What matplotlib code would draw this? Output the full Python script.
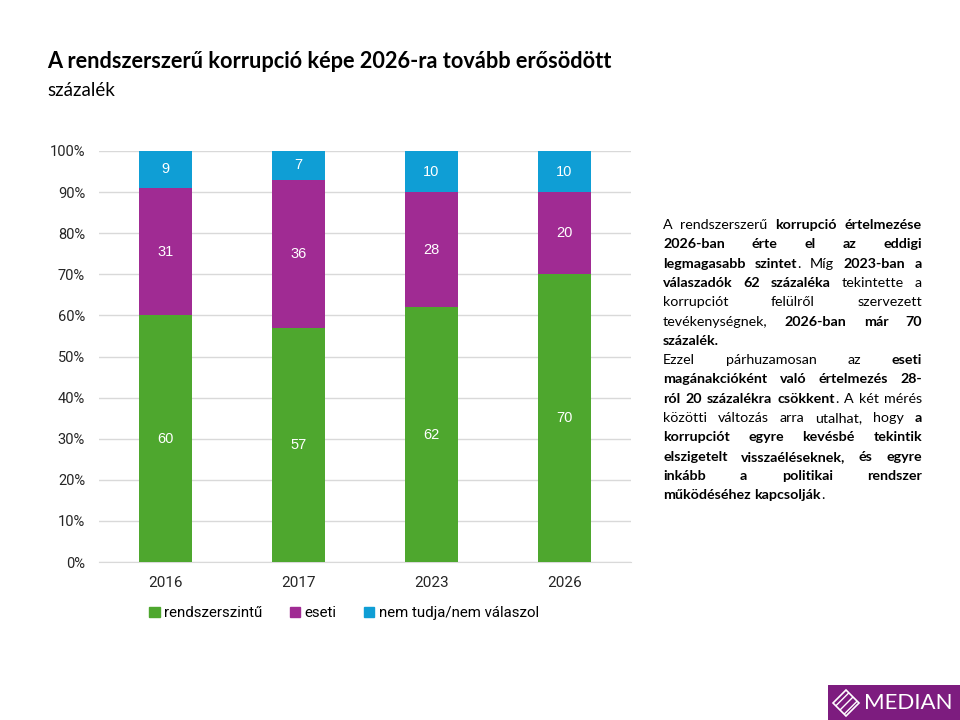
import matplotlib
matplotlib.use('Agg')
import matplotlib.pyplot as plt
from matplotlib.patches import Rectangle, Polygon
import numpy as np

# Adatok
years = ['2016', '2017', '2023', '2026']
rendszerszintu = [60, 57, 62, 70]
eseti = [31, 36, 28, 20]
nem_tudja = [9, 7, 10, 10]
series_names = ['rendszerszintű', 'eseti', 'nem tudja/nem válaszol']
y_ticks = [0, 10, 20, 30, 40, 50, 60, 70, 80, 90, 100]

title = 'A rendszerszerű korrupció képe 2026-ra tovább erősödött'
subtitle = 'százalék'

# Jobb oldali szöveg, soronként (** = félkövér váltás); második elem: bekezdés vége
text_lines = [
    ('A rendszerszerű **korrupció értelmezése**', False),
    ('**2026-ban érte el az eddigi**', False),
    ('**legmagasabb szintet**. Míg **2023-ban a**', False),
    ('**válaszadók 62 százaléka** tekintette a', False),
    ('korrupciót felülről szervezett', False),
    ('tevékenységnek, **2026-ban már 70**', False),
    ('**százalék.**', True),
    ('Ezzel párhuzamosan az **eseti**', False),
    ('**magánakcióként való értelmezés 28-**', False),
    ('**ról 20 százalékra csökkent**. A két mérés', False),
    ('közötti változás arra utalhat, hogy **a**', False),
    ('**korrupciót egyre kevésbé tekintik**', False),
    ('**elszigetelt visszaéléseknek, és egyre**', False),
    ('**inkább a politikai rendszer**', False),
    ('**működéséhez kapcsolják**.', True),
]

GREEN = '#4EA72E'
PURPLE = '#A02B93'
BLUE = '#0F9ED5'
W, H = 960, 720

fig = plt.figure(figsize=(9.6, 7.2), dpi=100)
fig.patch.set_facecolor('white')

ax = fig.add_axes([99 / W, 1 - 562 / H, 532 / W, 411 / H])
x = np.arange(len(years))
bw = 0.4
bottom = np.zeros(len(years))
for vals, col in zip([rendszerszintu, eseti, nem_tudja], [GREEN, PURPLE, BLUE]):
    ax.bar(x, vals, bw, bottom=bottom, color=col, zorder=3)
    for xi, v, b in zip(x, vals, bottom):
        ax.text(xi, b + v / 2, str(v), ha='center', va='center', color='white',
                fontsize=10.5, family='Liberation Sans', zorder=4)
    bottom = bottom + np.array(vals)

ax.set_xlim(-0.5, len(years) - 0.5)
ax.set_ylim(0, 100)
ax.set_yticks(y_ticks)
ax.set_yticklabels([f'{t}%' for t in y_ticks], family='Roboto', fontsize=10.5, color='#262626')
ax.set_xticks(x)
ax.set_xticklabels(years, family='Roboto', fontsize=11, color='#262626')
ax.tick_params(length=0, pad=10)
ax.tick_params(axis='x', pad=10)
ax.grid(axis='y', color='#D9D9D9', linewidth=1, zorder=0)
for s in ['top', 'right', 'left']:
    ax.spines[s].set_visible(False)
ax.spines['bottom'].set_color('#D9D9D9')

handles = [Rectangle((0, 0), 1, 1, color=c) for c in [GREEN, PURPLE, BLUE]]
fig.legend(handles, series_names, loc='center', bbox_to_anchor=(344 / W, 1 - 613 / H),
           ncol=3, frameon=False, handlelength=0.7, handleheight=0.7, handletextpad=0.3,
           columnspacing=1.8, prop={'family': 'Roboto', 'size': 10.8})

fig.text(47 / W, 1 - 62 / H, title, fontsize=15.7, fontweight='bold', family='Lato',
         va='center', ha='left', color='black')
fig.text(47 / W, 1 - 91 / H, subtitle, fontsize=13.5, family='Lato', va='center',
         ha='left', color='black')


# Sorkizárt szöveg felépítése
def parse_words(line):
    segs = []
    bold = False
    for part in line.split('**'):
        if part:
            segs.append((part, bold))
        bold = not bold
    words = [[]]
    for txt, b in segs:
        pieces = txt.split(' ')
        for j, p in enumerate(pieces):
            if j > 0:
                words.append([])
            if p:
                words[-1].append((p, b))
    return [w for w in words if w]


renderer = fig.canvas.get_renderer()
FS = 10.3
FAM = 'Lato'


def measure(s, bold):
    t = fig.text(0, 0, s, fontsize=FS, family=FAM, fontweight='bold' if bold else 'normal')
    w = t.get_window_extent(renderer).width
    t.remove()
    return w


space_w = measure('a a', False) - 2 * measure('a', False)
left, right = 663, 922
y0, dy = 229, 19.3
for i, (line, last) in enumerate(text_lines):
    words = parse_words(line)
    widths = [[measure(s, b) for s, b in wd] for wd in words]
    totals = [sum(w) for w in widths]
    if last or len(words) == 1:
        gap = space_w
    else:
        gap = (right - left - sum(totals)) / (len(words) - 1)
    xp = left
    yp = y0 + i * dy
    for wd, ws, tot in zip(words, widths, totals):
        xs = xp
        for (s, b), w in zip(wd, ws):
            fig.text(xs / W, 1 - yp / H, s, fontsize=FS, family=FAM,
                     fontweight='bold' if b else 'normal', va='baseline', ha='left')
            xs += w
        xp += tot + gap

# Logó
logo = fig.add_axes([828 / W, 0, 132 / W, 35 / H])
logo.set_xlim(0, 132)
logo.set_ylim(0, 35)
logo.axis('off')
logo.add_patch(Rectangle((0, 0), 132, 35, color='#7D1C7F'))
logo.add_patch(Polygon([[5, 17], [18, 4], [31, 17], [18, 30]], closed=True,
                       facecolor='none', edgecolor='white', linewidth=1.2, hatch='////'))
logo.text(36, 17, 'MEDIAN', color='white', fontsize=16, family='Lato', va='center', ha='left')

fig.savefig('out.png', dpi=100)
